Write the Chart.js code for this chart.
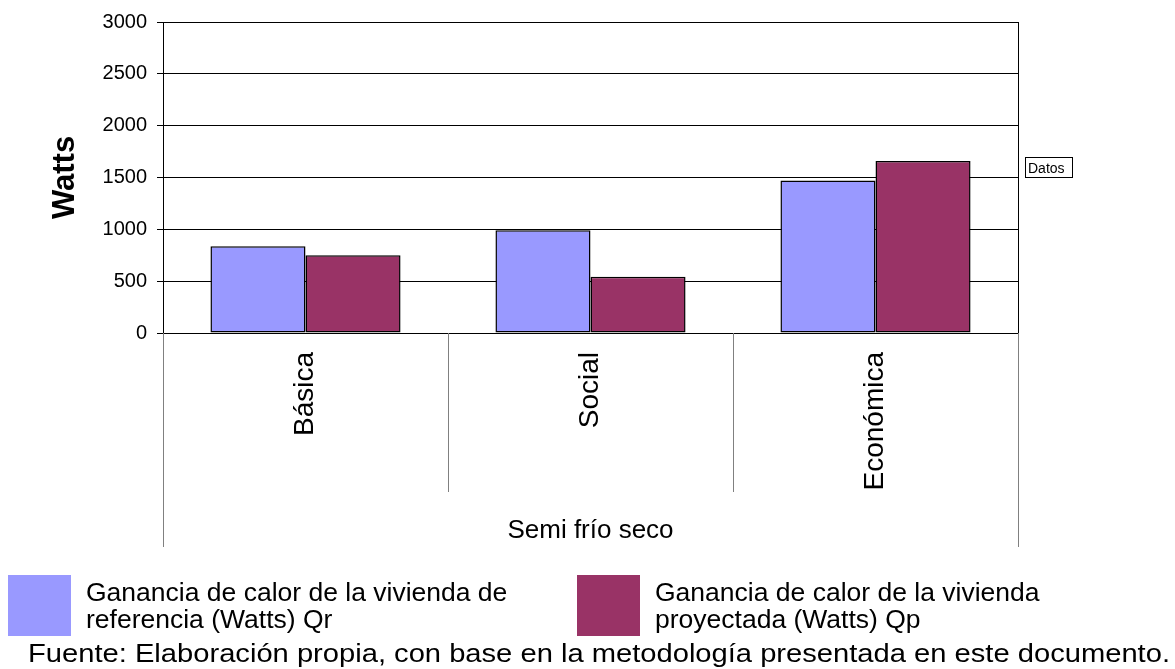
<!DOCTYPE html>
<html>
<head>
<meta charset="utf-8">
<title>Ganancia de calor - Semi frío seco</title>
<script src="https://cdn.jsdelivr.net/npm/chart.js@4.4.0/dist/chart.umd.min.js"></script>
<style>
    html, body { margin: 0; padding: 0; background: #fff; }
    canvas { display: block; }
</style>
</head>
<body>
<canvas id="heatChart" width="1175" height="669"></canvas>
<script>
// Data
const categories = ['Básica', 'Social', 'Económica'];
const groupLabel = 'Semi frío seco';
const qrValues = [838, 990, 1472];
const qpValues = [750, 542, 1660];
const yTicks = [0, 500, 1000, 1500, 2000, 2500, 3000];
const seriesNames = [
    'Ganancia de calor de la vivienda de referencia (Watts) Qr',
    'Ganancia de calor de la vivienda proyectada (Watts) Qp'
];
// how the legend text wraps in the original
const legendLines = [
    ['Ganancia de calor de la vivienda de', 'referencia (Watts) Qr'],
    ['Ganancia de calor de la vivienda', 'proyectada (Watts) Qp']
];
const sourceText = 'Fuente: Elaboración propia, con base en la metodología presentada en este documento.';

const FONT = '"Liberation Sans", Arial, sans-serif';

// Draws the axis title, category separators, group label, legend, "Datos" box and source line
const extrasPlugin = {
    id: 'extras',
    afterDraw(chart) {
        const ctx = chart.ctx;
        const area = chart.chartArea;
        const x = chart.scales.x;
        ctx.save();

        // y axis title
        ctx.fillStyle = '#000';
        ctx.font = 'bold 31px ' + FONT;
        ctx.textAlign = 'center';
        ctx.textBaseline = 'middle';
        ctx.translate(65, (area.top + area.bottom) / 2);
        ctx.rotate(-Math.PI / 2);
        ctx.fillText('Watts', 0, 0);
        ctx.setTransform(1, 0, 0, 1, 0, 0);

        // separators between categories below the axis
        ctx.strokeStyle = '#808080';
        ctx.lineWidth = 1;
        for (let i = 0; i <= categories.length; i++) {
            const px = Math.round(x.getPixelForValue(i - 0.5)) + 0.5;
            const outer = (i === 0 || i === categories.length);
            ctx.beginPath();
            ctx.moveTo(px, area.bottom);
            ctx.lineTo(px, outer ? 547 : 492);
            ctx.stroke();
        }
        // right border of the plot
        ctx.strokeStyle = '#000';
        ctx.beginPath();
        ctx.moveTo(Math.round(area.right) + 0.5, area.top);
        ctx.lineTo(Math.round(area.right) + 0.5, area.bottom);
        ctx.stroke();

        // group label
        ctx.font = '26px ' + FONT;
        ctx.textAlign = 'center';
        ctx.textBaseline = 'alphabetic';
        ctx.fillText(groupLabel, (area.left + area.right) / 2, 538);

        // "Datos" box
        ctx.strokeRect(1025.5, 157.5, 47, 20);
        ctx.font = '14px ' + FONT;
        ctx.textAlign = 'left';
        ctx.fillText('Datos', 1028, 173);

        // legend
        const legendX = [8, 577];
        chart.data.datasets.forEach((ds, i) => {
            ctx.fillStyle = ds.backgroundColor;
            ctx.fillRect(legendX[i], 575, 63, 61);
            ctx.fillStyle = '#000';
            ctx.font = '26.5px ' + FONT;
            legendLines[i].forEach((line, j) => {
                ctx.fillText(line, legendX[i] + 78, 601 + j * 27);
            });
        });

        // source line, stretched to the width it takes in the original
        ctx.font = '26px ' + FONT;
        const w = ctx.measureText(sourceText).width;
        ctx.translate(28, 662);
        ctx.scale((1170 - 28) / w, 1);
        ctx.fillText(sourceText, 0, 0);
        ctx.restore();
    }
};

const ctx = document.getElementById('heatChart').getContext('2d');
const heatChart = new Chart(ctx, {
    type: 'bar',
    data: {
        labels: categories,
        datasets: [{
            label: seriesNames[0],
            data: qrValues,
            backgroundColor: '#9999FF',
            borderColor: '#000',
            borderWidth: 1.5,
            borderSkipped: false,
            categoryPercentage: 0.667,
            barPercentage: 1.0
        }, {
            label: seriesNames[1],
            data: qpValues,
            backgroundColor: '#993366',
            borderColor: '#000',
            borderWidth: 1.5,
            borderSkipped: false,
            categoryPercentage: 0.667,
            barPercentage: 1.0
        }]
    },
    options: {
        responsive: false,
        animation: false,
        layout: {
            padding: { left: 0, right: 157, top: 19, bottom: 0 }
        },
        plugins: {
            legend: { display: false },
            tooltip: { enabled: false }
        },
        scales: {
            x: {
                grid: { display: false, drawTicks: false },
                border: { display: true, color: '#000', width: 1 },
                ticks: {
                    color: '#000',
                    font: { family: FONT, size: 28 },
                    minRotation: 90,
                    maxRotation: 90,
                    autoSkip: false,
                    padding: 19
                },
                afterFit(scale) {
                    scale.height = 336;
                }
            },
            y: {
                min: 0,
                max: 3000,
                afterBuildTicks(scale) {
                    scale.ticks = yTicks.map(v => ({ value: v }));
                },
                grid: {
                    color: '#000',
                    lineWidth: 1,
                    tickLength: 6,
                    tickColor: '#000'
                },
                border: { display: true, color: '#000', width: 1 },
                ticks: {
                    color: '#000',
                    font: { family: FONT, size: 20 },
                    padding: 10,
                    callback: v => String(v)
                },
                afterFit(scale) {
                    scale.width = 163;
                }
            }
        }
    },
    plugins: [extrasPlugin]
});
</script>
</body>
</html>
